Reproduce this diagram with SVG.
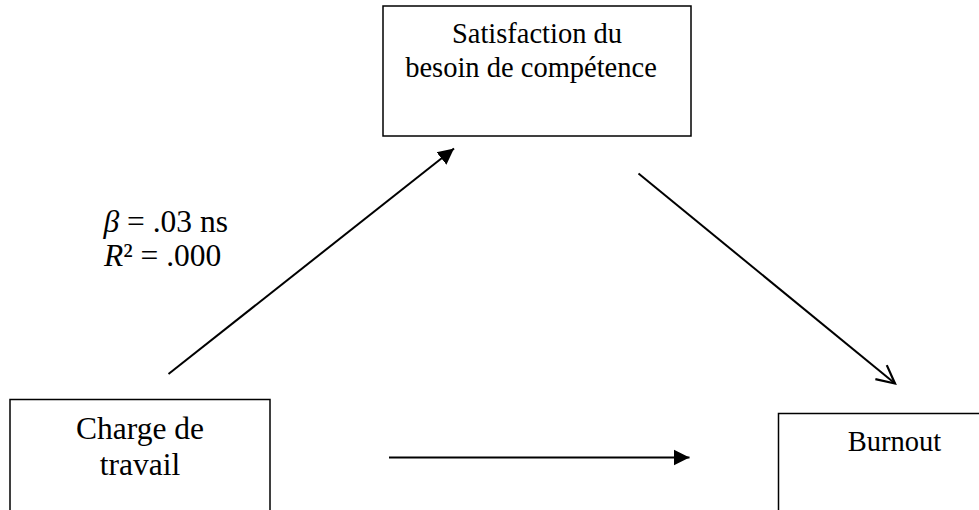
<svg xmlns="http://www.w3.org/2000/svg" width="979" height="510" viewBox="0 0 979 510">
<style>
.box{fill:#fff;stroke:#000;stroke-width:1.5}
.t{font-family:"Liberation Serif","Times New Roman",serif;fill:#000}
.ln{stroke:#000;stroke-width:2;fill:none}
</style>
<defs>
<marker id="fill" markerUnits="userSpaceOnUse" markerWidth="18" markerHeight="18" refX="16" refY="8" orient="auto" viewBox="0 0 18 16">
<path d="M0,0 L16,8 L0,16 Z" fill="#000"/>
</marker>
<marker id="open" markerUnits="userSpaceOnUse" markerWidth="22" markerHeight="22" refX="19" refY="10" orient="auto" viewBox="0 0 22 20">
<path d="M1,1 L19,10 L1,19" fill="none" stroke="#000" stroke-width="2.2" stroke-linejoin="miter"/>
</marker>
</defs>
<rect width="979" height="510" fill="#fff"/>
<g id="connectors">
<line class="ln" x1="168.5" y1="374" x2="454" y2="148.5" marker-end="url(#fill)"/>
<line class="ln" x1="638.5" y1="173.5" x2="895" y2="383.5" marker-end="url(#open)"/>
<line class="ln" x1="389" y1="457.5" x2="689.5" y2="457.5" marker-end="url(#fill)"/>
</g>
<g id="node-satisfaction">
<rect class="box" x="383" y="6" width="308" height="130"/>
<text class="t" font-size="28.5" x="537" y="43" text-anchor="middle">Satisfaction du</text>
<text class="t" font-size="28.5" x="531" y="77" text-anchor="middle">besoin de compétence</text>
</g>
<g id="node-charge">
<rect class="box" x="10" y="399.5" width="260" height="130"/>
<text class="t" font-size="31.5" x="140" y="439" text-anchor="middle">Charge de</text>
<text class="t" font-size="31.5" x="140" y="475" text-anchor="middle">travail</text>
</g>
<g id="node-burnout">
<rect class="box" x="778.5" y="413.5" width="232" height="130"/>
<text class="t" font-size="28.5" x="894.5" y="451" text-anchor="middle">Burnout</text>
</g>
<g id="label-path-a">
<text class="t" font-size="31.5" x="103.5" y="232"><tspan font-style="italic">β</tspan> = .03 ns</text>
<text class="t" font-size="31.5" x="104" y="266"><tspan font-style="italic">R</tspan>² = .000</text>
</g>
</svg>
